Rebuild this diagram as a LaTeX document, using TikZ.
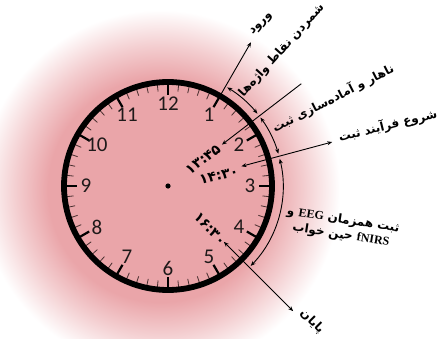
\documentclass[tikz,border=0pt]{standalone}
\usepackage{fontspec}
\setmainfont{Carlito}
\newfontfamily\farsi[Script=Arabic]{DejaVu Sans}
\newfontfamily\latinbold{Liberation Serif}
\TeXXeTstate=1
\usetikzlibrary{arrows.meta}

\definecolor{facepink}{RGB}{234,165,169}
\definecolor{tickgray}{RGB}{70,45,45}
\definecolor{numgray}{RGB}{30,25,25}
\pgfdeclareradialshading{clockglow}{\pgfpoint{0bp}{0bp}}{color(0bp)=(facepink); color(14bp)=(facepink); color(18bp)=(facepink!55!white); color(22.5bp)=(white); color(50bp)=(white)}

\tikzset{
  timeline/.style={line width=.9pt,black},
  farsilabel/.style={font=\farsi\bfseries\fontsize{12}{15}\selectfont,inner sep=1pt},
  timelabel/.style={font=\farsi\bfseries\fontsize{14}{16}\selectfont,inner sep=0pt,anchor=east},
  hourtick/.style={line width=2.2pt},
  minutetick/.style={line width=.8pt,tickgray},
}

\begin{document}
\begin{tikzpicture}[x=1pt,y=1pt,>={Stealth[length=5pt,width=4pt]}]
  \useasboundingbox (0,0) rectangle (438,338);
  \coordinate (c) at (168,152);
  % glow behind the clock
  \begin{scope}
    \clip (0,0) rectangle (438,338);
    \shade[shading=clockglow] (160,148) circle (200);
  \end{scope}
  % clock face
  \foreach \m in {0,...,59}
           {\draw[minutetick] (c) ++(90-6*\m:102) -- ++(270-6*\m:7);}
  \foreach \h in {0,...,11}
           {\draw[hourtick] (c) ++(90-30*\h:102) -- ++(270-30*\h:11);}
  \draw[line width=5.8pt] (c) circle (104);
  \foreach \h in {1,...,12}
           {\node[font=\fontsize{21}{21}\selectfont,text=numgray] (n\h) at ([shift={(90-30*\h:82)}]c) {\h};}
  \fill (c) circle (2.6);
  %
  \coordinate (entryIn) at ([shift={(60:103)}]c);
  \coordinate (entryOut) at ([shift={(60:166)}]c);
  \coordinate (lunchIn) at ([shift={(37.5:68)}]c);
  \coordinate (lunchOut) at ([shift={(37.5:168)}]c);
  \coordinate (startIn) at ([shift={(15:76)}]c);
  \coordinate (startOut) at ([shift={(15:170)}]c);
  \coordinate (endIn) at ([shift={(-45:79)}]c);
  \coordinate (endOut) at ([shift={(-45:177)}]c);
  \draw[timeline,->] (entryIn) -- (entryOut);
  \draw[timeline,->] (lunchOut) -- (lunchIn);
  \draw[timeline,<->] (startOut) -- (startIn);
  \draw[timeline,<->] (endIn) -- (endOut);
  % durations
  \draw[timeline,<->] ([shift={(59:115)}]c) arc[start angle=59,end angle=39,radius=115];
  \draw[timeline,<->] ([shift={(36.5:115)}]c) arc[start angle=36.5,end angle=16.3,radius=115];
  \draw[timeline,<->] ([shift={(13.7:115)}]c) arc[start angle=13.7,end angle=-44,radius=115];
  % times
  \node[timelabel,rotate=37] (t1345) at ([shift={(37:64)}]c) {۱۳:۴۵};
  \node[timelabel,rotate=13] (t1430) at ([shift={(12:72)}]c) {۱۴:۳۰};
  \node[timelabel,rotate=-47] (t1630) at ([shift={(-46:80)}]c) {۱۶:۳۰};
  % labels
  \node[farsilabel,rotate=46] (entry) at ([shift={(60:187)}]c) {\beginR ورود\endR};
  \node[farsilabel,rotate=48] (count) at ([shift={(50:177)}]c) {\beginR شمردن نقاط واژه‌ها\endR};
  \node[farsilabel,rotate=27] (lunch) at ([shift={(28:187)}]c) {\beginR ناهار و آماده‌سازی ثبت\endR};
  \node[farsilabel,rotate=14] (start) at ([shift={(15.4:228)}]c) {\beginR شروع فرآیند ثبت\endR};
  \node[farsilabel,rotate=-9,align=center] (record) at ([shift={(-13.5:179)}]c)
       {\beginR ثبت همزمان \beginL{\latinbold EEG}\endL{} و\endR\\
        \beginR \beginL{\latinbold fNIRS}\endL{} حین خواب\endR};
  \node[farsilabel,rotate=-45] (finish) at ([shift={(-43.3:198)}]c) {\beginR پایان\endR};
\end{tikzpicture}
\end{document}
